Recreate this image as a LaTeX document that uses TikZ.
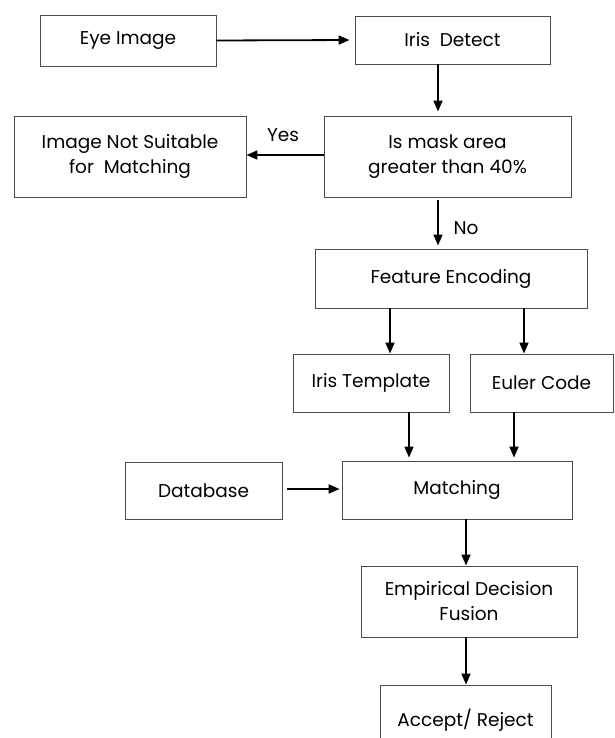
\documentclass[tikz,border=0pt]{standalone}
\usepackage{fontspec}
\setmainfont{Poppins}
\usetikzlibrary{arrows.meta}
\begin{document}
\begin{tikzpicture}[x=1pt,y=-1pt,
  box/.style={draw=black!70,line width=0.9pt,rectangle,align=center,inner sep=0pt,
    font=\fontsize{18.5}{25}\selectfont},
  arr/.style={draw=black,line width=1.8pt,-{Triangle[length=11pt,width=9pt]}},
  lbl/.style={font=\fontsize{18.5}{22}\selectfont,inner sep=0pt}]
\useasboundingbox (0,0) rectangle (614,738);

\node[box,minimum width=176pt,minimum height=51pt] (eye) at (128,40.5) {Eye Image};
\node[box,minimum width=195pt,minimum height=48pt] (iris) at (452.5,40) {Iris\ \ Detect};
\node[box,minimum width=232pt,minimum height=81pt] (unsuit) at (130,156.5) {Image Not Suitable\\for\ \ Matching};
\node[box,minimum width=247pt,minimum height=81pt] (mask) at (447.5,156.5) {Is mask area\\greater than 40\%};
\node[box,minimum width=272pt,minimum height=59pt] (feat) at (451,278.5) {Feature Encoding};
\node[box,minimum width=156pt,minimum height=58pt] (tmpl) at (371,383) {Iris Template};
\node[box,minimum width=143pt,minimum height=58pt] (euler) at (541.5,383) {Euler Code};
\node[box,minimum width=157pt,minimum height=57pt] (db) at (203.5,490.5) {Database};
\node[box,minimum width=230pt,minimum height=58pt] (match) at (457,490) {Matching};
\node[box,minimum width=216pt,minimum height=71pt] (emp) at (469,601.5) {Empirical Decision\\Fusion};
\node[box,minimum width=171pt,minimum height=70pt] (acc) at (465.5,720) {Accept/ Reject};

\draw[arr,shorten >=5pt] (eye.east) -- (iris.west);
\draw[arr,shorten >=4pt] (iris.south -| 438,0) -- (mask.north -| 438,0);
\draw[arr] (mask.west |- 0,155) -- (unsuit.east |- 0,155);
\node[lbl] (yes) at (283,135) {Yes};
\draw[arr,shorten <=3pt,shorten >=3pt] (mask.south -| 438,0) -- (feat.north -| 438,0);
\node[lbl] (no) at (466,228) {No};
\draw[arr] (feat.south -| 390,0) -- (tmpl.north -| 390,0);
\draw[arr] (feat.south -| 524,0) -- (euler.north -| 524,0);
\draw[arr,shorten >=3pt] (tmpl.south -| 409,0) -- (match.north -| 409,0);
\draw[arr,shorten >=3pt] (euler.south -| 514,0) -- (match.north -| 514,0);
\draw[arr,shorten <=5pt,shorten >=2pt] (db.east |- 0,489) -- (match.west |- 0,489);
\draw[arr] (match.south -| 466,0) -- (emp.north -| 466,0);
\draw[arr] (emp.south -| 466,0) -- (acc.north -| 466,0);
\end{tikzpicture}
\end{document}
